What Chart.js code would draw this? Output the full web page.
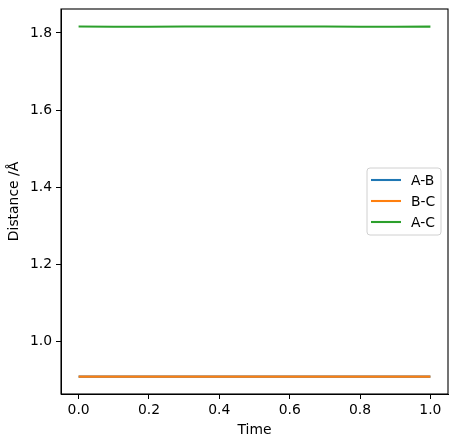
<!DOCTYPE html>
<html>
<head>
<meta charset="utf-8">
<script src="https://cdn.jsdelivr.net/npm/chart.js@4"></script>
<style>
html,body{margin:0;padding:0;background:#fff;}
#wrap{width:456px;height:443px;position:relative;}
</style>
</head>
<body>
<div id="wrap"><canvas id="c" width="456" height="443"></canvas></div>
<script>
const times = [0.0, 0.1, 0.2, 0.3, 0.4, 0.5, 0.6, 0.7, 0.8, 0.9, 1.0];
const abValues = [0.909, 0.909, 0.909, 0.909, 0.909, 0.909, 0.909, 0.909, 0.909, 0.909, 0.909];
const bcValues = [0.909, 0.909, 0.909, 0.909, 0.909, 0.909, 0.909, 0.909, 0.909, 0.909, 0.909];
const acValues = [1.8165, 1.8162, 1.8160, 1.8166, 1.8168, 1.8167, 1.8166, 1.8168, 1.8162, 1.8161, 1.8164];
const seriesLabels = ['A-B', 'B-C', 'A-C'];
const seriesColors = ['#1f77b4', '#ff7f0e', '#2ca02c'];
const xTicks = [0.0, 0.2, 0.4, 0.6, 0.8, 1.0];
const yTicks = [1.0, 1.2, 1.4, 1.6, 1.8];

const FONT = 'DejaVu Sans';
const FS = 13.9;

function pts(vals){ return times.map((t,i)=>({x:t,y:vals[i]})); }
const allVals = [abValues, bcValues, acValues];

const framePlugin = {
  id:'frame',
  afterDraw(chart){
    const {ctx, chartArea:a} = chart;
    ctx.save();
    ctx.strokeStyle='#000'; ctx.lineWidth=1.1;
    ctx.strokeRect(a.left, a.top, a.right-a.left, a.bottom-a.top);
    // legend
    const bx=367, by=168, bw=74, bh=67, r=3;
    ctx.beginPath();
    ctx.moveTo(bx+r,by); ctx.lineTo(bx+bw-r,by); ctx.quadraticCurveTo(bx+bw,by,bx+bw,by+r);
    ctx.lineTo(bx+bw,by+bh-r); ctx.quadraticCurveTo(bx+bw,by+bh,bx+bw-r,by+bh);
    ctx.lineTo(bx+r,by+bh); ctx.quadraticCurveTo(bx,by+bh,bx,by+bh-r);
    ctx.lineTo(bx,by+r); ctx.quadraticCurveTo(bx,by,bx+r,by);
    ctx.closePath();
    ctx.fillStyle='rgba(255,255,255,0.8)'; ctx.fill();
    ctx.strokeStyle='#d0d0d0'; ctx.lineWidth=1; ctx.stroke();
    ctx.font = FS+'px "'+FONT+'"';
    ctx.textBaseline='middle'; ctx.textAlign='left';
    chart.data.datasets.forEach((ds,i)=>{
      const y = by+12+i*21;
      ctx.strokeStyle=ds.borderColor; ctx.lineWidth=2.08;
      ctx.beginPath(); ctx.moveTo(bx+4,y); ctx.lineTo(bx+34,y); ctx.stroke();
      ctx.fillStyle='#000';
      ctx.fillText(ds.label, bx+44, y+1);
    });
    ctx.restore();
  }
};

new Chart(document.getElementById('c'), {
  type:'line',
  data:{
    datasets: seriesLabels.map((l,i)=>({
      label:l, data:pts(allVals[i]), borderColor:seriesColors[i], backgroundColor:seriesColors[i],
      borderWidth:2.08, pointRadius:0, tension:0, fill:false, order: 3-i
    }))
  },
  options:{
    responsive:false, animation:false, devicePixelRatio:1,
    layout:{padding:{top:9, right:8, left:0, bottom:0}},
    plugins:{legend:{display:false}, tooltip:{enabled:false}},
    scales:{
      x:{
        type:'linear', min:-0.05, max:1.05,
        afterBuildTicks(s){ s.ticks = xTicks.map(v=>({value:v})); },
        afterFit(s){ s.height = 49; s.paddingLeft = 0; s.paddingRight = 0; },
        grid:{drawOnChartArea:false, drawTicks:true, tickLength:5, color:'#000', tickWidth:1},
        border:{display:true, color:'#000', width:1},
        ticks:{color:'#000', padding:3, maxRotation:0, font:{family:FONT, size:FS},
          callback:v=>Number(v).toFixed(1)},
        title:{display:true, text:'Time', color:'#000', font:{family:FONT, size:FS}, padding:{top:0,bottom:4}}
      },
      y:{
        type:'linear', min:0.864, max:1.862,
        afterBuildTicks(s){ s.ticks = yTicks.map(v=>({value:v})); },
        afterFit(s){ s.width = 61; s.paddingTop = 0; s.paddingBottom = 0; },
        grid:{drawOnChartArea:false, drawTicks:true, tickLength:5, color:'#000', tickWidth:1},
        border:{display:true, color:'#000', width:1},
        ticks:{color:'#000', padding:4, font:{family:FONT, size:FS},
          callback:v=>Number(v).toFixed(1)},
        title:{display:true, text:'Distance /Å', color:'#000', font:{family:FONT, size:FS}, padding:{top:6,bottom:2}}
      }
    }
  },
  plugins:[framePlugin]
});
</script>
</body>
</html>
